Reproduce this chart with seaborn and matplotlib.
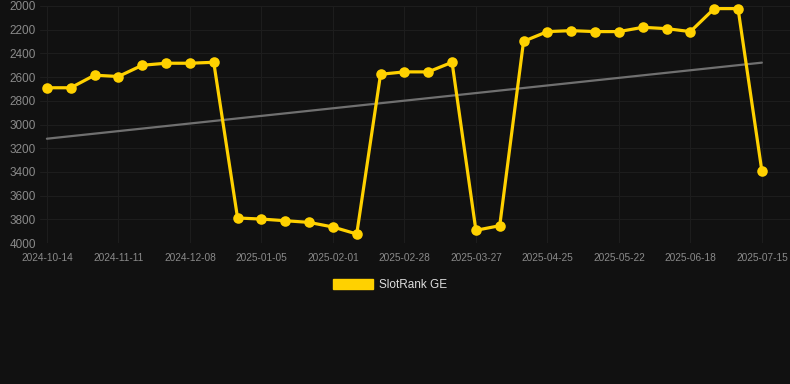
import matplotlib
matplotlib.use("Agg")
import matplotlib.pyplot as plt
from matplotlib.patches import Patch
import seaborn as sns
import pandas as pd

dates = ["2024-10-14", "2024-10-23", "2024-11-01", "2024-11-11", "2024-11-20",
         "2024-11-29", "2024-12-08", "2024-12-17", "2024-12-26", "2025-01-05",
         "2025-01-14", "2025-01-23", "2025-02-01", "2025-02-10", "2025-02-19",
         "2025-02-28", "2025-03-09", "2025-03-18", "2025-03-27", "2025-04-05",
         "2025-04-15", "2025-04-25", "2025-05-04", "2025-05-13", "2025-05-22",
         "2025-05-31", "2025-06-09", "2025-06-18", "2025-06-27", "2025-07-06",
         "2025-07-15"]
ranks = [2690, 2690, 2584, 2595, 2500, 2483, 2483, 2475, 3789, 3798,
         3812, 3826, 3865, 3924, 2576, 2556, 2556, 2475, 3893, 3854,
         2298, 2216, 2208, 2216, 2216, 2180, 2191, 2216, 2022, 2022,
         3393]
trend_dates = ["2024-10-14", "2025-07-15"]
trend_values = [3120, 2478]
tick_labels = ["2024-10-14", "2024-11-11", "2024-12-08", "2025-01-05", "2025-02-01",
               "2025-02-28", "2025-03-27", "2025-04-25", "2025-05-22", "2025-06-18",
               "2025-07-15"]
yticks = [2000, 2200, 2400, 2600, 2800, 3000, 3200, 3400, 3600, 3800, 4000]
series_name = "SlotRank GE"

BG = "#111111"
YEL = "#FFD100"
GRID = "#1d1d1d"
TXT = "#8a8a8a"

sns.set_theme(style="dark")
plt.rcParams["font.family"] = ["Liberation Sans", "DejaVu Sans"]

pos = {d: i for i, d in enumerate(dates)}
df = pd.DataFrame({"x": [pos[d] for d in dates], "rank": ranks})
tdf = pd.DataFrame({"x": [pos[d] for d in trend_dates], "rank": trend_values})

fig = plt.figure(figsize=(7.9, 3.84), dpi=100, facecolor=BG)
ax = fig.add_axes([40 / 790, 1 - 243 / 384, 750 / 790, 237 / 384])
ax.set_facecolor(BG)

sns.lineplot(data=tdf, x="x", y="rank", ax=ax, color="#707070", linewidth=1.6,
             legend=False, zorder=2)
sns.lineplot(data=df, x="x", y="rank", ax=ax, color=YEL, linewidth=2.3,
             marker="o", markersize=7.6, markeredgecolor=YEL, markeredgewidth=0,
             legend=False, zorder=3, clip_on=False)

ax.set_ylim(4000, 2000)
ax.set_xlim(-0.29, 31.18)
ax.set_yticks(yticks)
ax.set_yticklabels([str(v) for v in yticks])
ax.set_xticks([pos[d] for d in tick_labels])
ax.set_xticklabels(tick_labels)
ax.grid(True, color=GRID, linewidth=0.8)
ax.set_axisbelow(True)
for s in ax.spines.values():
    s.set_visible(False)
ax.tick_params(axis="y", colors=TXT, labelsize=8.5, length=0, pad=3)
ax.tick_params(axis="x", colors=TXT, labelsize=7.3, length=3, width=0.6,
               color=GRID, pad=4)
ax.set_xlabel("")
ax.set_ylabel("")

handle = Patch(facecolor=YEL, edgecolor=YEL, label=series_name)
leg = fig.legend(handles=[handle], loc="center", bbox_to_anchor=(390 / 790, 1 - 285 / 384),
                 frameon=False, fontsize=8.5, handlelength=3.4, handleheight=1.0,
                 handletextpad=0.5)
for t in leg.get_texts():
    t.set_color("#dddddd")

fig.savefig("out.png", dpi=100, facecolor=BG)
